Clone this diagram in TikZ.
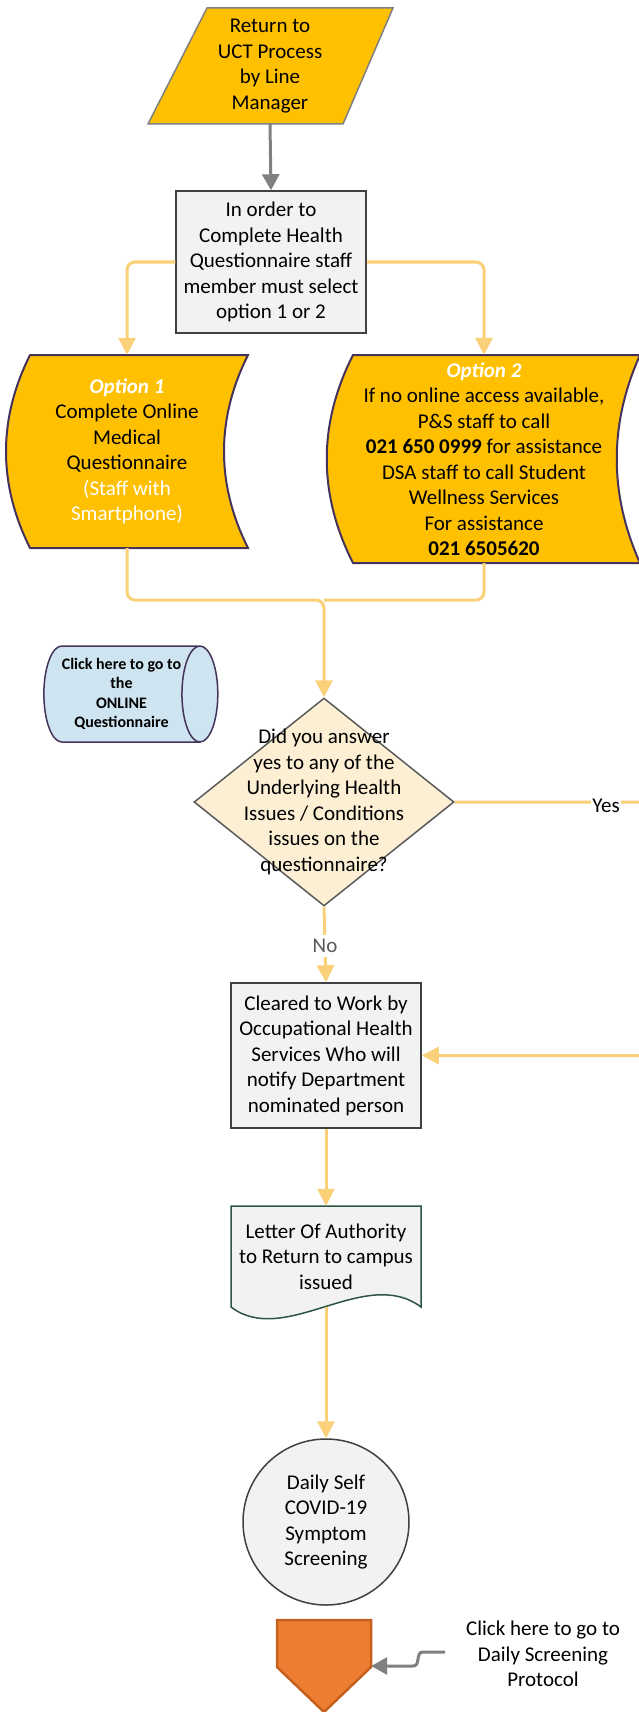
\documentclass[tikz,border=0pt]{standalone}
\usepackage{fontspec}
\setmainfont{Carlito}
\usetikzlibrary{arrows.meta,shapes.geometric}

\definecolor{gold}{HTML}{FFC000}
\definecolor{flow}{HTML}{FAD078}
\definecolor{plum}{HTML}{46335C}
\definecolor{paper}{HTML}{F2F2F2}
\definecolor{edge}{HTML}{404040}
\definecolor{cream}{HTML}{FCEFD4}
\definecolor{sky}{HTML}{CFE4F1}
\definecolor{pine}{HTML}{2E5443}
\definecolor{rust}{HTML}{ED7D31}
\definecolor{rustdark}{HTML}{C5611F}
\definecolor{ashgrey}{HTML}{808080}
\definecolor{notext}{HTML}{595959}

\begin{document}
\begin{tikzpicture}[x=1pt,y=-1pt,
    txt/.style={align=center,inner sep=0pt,font=\fontsize{21}{25.5}\selectfont},
    holder/.style={txt,rectangle},
    procbox/.style={txt,rectangle,draw=edge,fill=paper,line width=1.5pt},
    optshape/.style={fill=gold,draw=plum,line width=2pt},
    flowline/.style={draw=flow,line width=3pt,rounded corners=8pt,-{Triangle[width=17pt,length=17pt]}},
    greyline/.style={draw=ashgrey,line width=3pt,-{Triangle[width=17pt,length=16pt]}}]
    \useasboundingbox (0,0) rectangle (638,1712);

    %% start
    \filldraw[fill=gold,draw=ashgrey,line width=1.5pt] (207,8) -- (393,8) -- (343,124) -- (148,124) -- cycle;
    \node (start) at (270,66) [holder,minimum width=245,minimum height=116] {Return to\\UCT Process\\by Line\\Manager};

    \node (order) at (271,262) [procbox,minimum width=190,minimum height=142] {In order to\\Complete Health\\Questionnaire staff\\member must select\\option 1 or 2};

    %% the two options
    \filldraw[optshape] (30,355) -- (248,355) .. controls (216,419) and (216,484) .. (248,548)
        -- (30,548) .. controls (-2,484) and (-2,419) .. cycle;
    \node (opt1) at (127,451.5) [holder,minimum width=194,minimum height=193]
        {\textcolor{white}{\textbf{\textit{Option 1}}}\\Complete Online\\Medical\\Questionnaire\\
         \textcolor{white}{(Staff with}\\\textcolor{white}{Smartphone)}};

    \filldraw[optshape] (353,355) -- (640,355) .. controls (609,424) and (609,494) .. (640,563)
        -- (353,563) .. controls (318,494) and (318,424) .. cycle;
    \node (opt2) at (484,459) [holder,minimum width=264,minimum height=208]
        {\textcolor{white}{\textbf{\textit{Option 2}}}\\If no online access available,\\P\&S staff to call\\
         \textbf{021 650 0999} for assistance\\DSA staff to call Student\\Wellness Services\\For assistance\\
         \textbf{021 6505620}};

    %% link to questionnaire
    \node (online) at (121.5,694) [cylinder,aspect=0.5,minimum width=96,minimum height=171,
        draw=plum,fill=sky,line width=1.5pt,align=center,inner sep=0pt,
        font=\fontsize{16}{19.5}\selectfont\bfseries] {Click here to go to\\the\\ONLINE\\Questionnaire};

    %% decision
    \node (dec) at (324,802) [diamond,minimum width=260,minimum height=208,inner sep=0pt,
        draw=notext,fill=cream,line width=1.5pt] {};
    \node (dectext) at (dec) [txt] {Did you answer\\yes to any of the\\Underlying Health\\Issues / Conditions\\issues on the\\questionnaire?};

    \node (cleared) at (326,1055.5) [procbox,minimum width=190,minimum height=145] {Cleared to Work by\\Occupational Health\\Services Who will\\notify Department\\nominated person};

    %% letter
    \filldraw[fill=paper,draw=pine,line width=1.5pt] (231,1206) -- (421,1206) -- (421,1307)
        .. controls (365,1265) and (285,1348) .. (231,1307) -- cycle;
    \node (letter) at (326,1256.5) [holder,minimum width=190,minimum height=101] {Letter Of Authority\\to Return to campus\\issued};

    \node (screen) at (326,1522) [txt,circle,minimum size=166,draw=edge,fill=paper,line width=1.5pt] {Daily Self\\COVID-19\\Symptom\\Screening};

    %% off page connector
    \filldraw[fill=rust,draw=rustdark,line width=2.5pt] (277,1620) -- (371,1620) -- (371,1667) -- (324,1712) -- (277,1667) -- cycle;
    \node (offpage) at (324,1666) [holder,minimum width=94,minimum height=92] {};
    \node (clicktxt) at (543,1654) [txt] {Click here to go to\\Daily Screening\\Protocol};
    \coordinate (clickend) at (445,1652);
    \coordinate (merge) at (324,600);
    \coordinate (rightrail) at (660,802);

    %% connectors
    \draw[greyline] (start.south) -- (order.north);
    \draw[flowline] (order.west) -| (opt1.north);
    \draw[flowline] (order.east) -| (opt2.north);
    \draw[flowline,-] (opt2.south) |- (merge);
    \draw[flowline] (opt1.south) |- (merge) -- (dec.north);
    \draw[flowline] (dec.east) -- (rightrail) |- (cleared.east);
    \node (yes) at (606,806) [txt,fill=white,inner sep=1pt] {Yes};
    \draw[flowline] (dec.south) -- (cleared.north)
        node (no) [pos=0.52,txt,fill=white,inner xsep=2pt,inner ysep=4pt,text=notext] {No};
    \draw[flowline] (cleared.south) -- (letter.north);
    \draw[flowline] (letter.south) -- (screen.north);
    \draw[greyline] (clickend) -- ++(-22,0) .. controls +(-8,0) and +(8,0) .. ++(-10,14) -- (offpage.east);
\end{tikzpicture}
\end{document}
